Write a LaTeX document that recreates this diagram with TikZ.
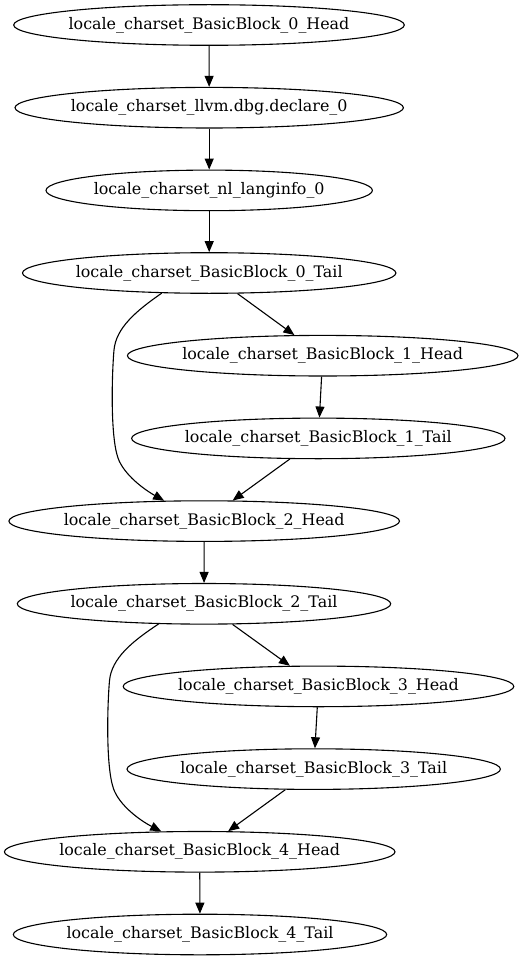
\documentclass[tikz,border=0pt]{standalone}
\usepackage{fontspec}
\setmainfont{DejaVu Serif}
\usetikzlibrary{shapes.geometric,arrows.meta}
\tikzset{
  bb/.style={draw=black, shape=ellipse, line width=1.1pt, inner sep=0pt,
    minimum height=40.6pt, font=\fontsize{15.9}{19}\selectfont},
  headw/.style={minimum width=390.6pt},
  tailw/.style={minimum width=373.4pt},
  edge/.style={draw=black, line width=1.1pt, -{Triangle[length=11pt,width=9pt]}}
}
\newcommand{\lbl}[1]{\makebox[0pt][c]{#1}}
\begin{document}
\begin{tikzpicture}[x=1pt,y=-1pt]
\useasboundingbox (0,0) rectangle (523,960);
\node[bb,headw] (n1) at (209,25) {\lbl{locale\_charset\_BasicBlock\_0\_Head}};
\node[bb,minimum width=388.4pt] (n2) at (209.2,107.7) {\lbl{locale\_charset\_llvm.dbg.declare\_0}};
\node[bb,minimum width=326.4pt] (n3) at (209.2,190.4) {\lbl{locale\_charset\_nl\_langinfo\_0}};
\node[bb,tailw] (n4) at (209.2,273.0) {\lbl{locale\_charset\_BasicBlock\_0\_Tail}};
\node[bb,headw] (n5) at (322.7,355.7) {\lbl{locale\_charset\_BasicBlock\_1\_Head}};
\node[bb,tailw] (n6) at (318.3,438.4) {\lbl{locale\_charset\_BasicBlock\_1\_Tail}};
\node[bb,headw] (n7) at (204.2,521.1) {\lbl{locale\_charset\_BasicBlock\_2\_Head}};
\node[bb,tailw] (n8) at (204.0,603.8) {\lbl{locale\_charset\_BasicBlock\_2\_Tail}};
\node[bb,headw] (n9) at (318.5,686.4) {\lbl{locale\_charset\_BasicBlock\_3\_Head}};
\node[bb,tailw] (n10) at (313.7,769.1) {\lbl{locale\_charset\_BasicBlock\_3\_Tail}};
\node[bb,headw] (n11) at (199.7,851.8) {\lbl{locale\_charset\_BasicBlock\_4\_Head}};
\node[bb,tailw] (n12) at (200.0,934.5) {\lbl{locale\_charset\_BasicBlock\_4\_Tail}};

\draw[edge] (n1) -- (n2);
\draw[edge] (n2) -- (n3);
\draw[edge] (n3) -- (n4);
\draw[edge] (n4) -- (n5);
\draw[edge] (n4.203.4) .. controls (136,311) and (116,328) .. (114,350)
  .. controls (112,372) and (110,435) .. (118,458)
  .. controls (124,475) and (145,490) .. (n7.153.2);
\draw[edge] (n5) -- (n6);
\draw[edge] (n6) -- (n7);
\draw[edge] (n7) -- (n8);
\draw[edge] (n8) -- (n9);
\draw[edge] (n8.204) .. controls (131.5,641.7) and (111.5,658.7) .. (109.5,680.7)
  .. controls (107.5,702.7) and (105.5,765.7) .. (113.5,788.7)
  .. controls (119.5,805.7) and (140.5,820.7) .. (n11.152);
\draw[edge] (n9) -- (n10);
\draw[edge] (n10) -- (n11);
\draw[edge] (n11) -- (n12);
\end{tikzpicture}
\end{document}
